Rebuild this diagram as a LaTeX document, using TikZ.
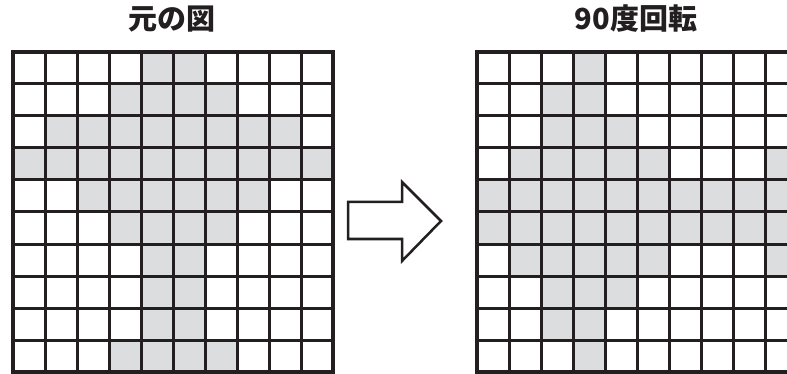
\documentclass[tikz,border=0pt]{standalone}
\usepackage{fontspec}
\newfontfamily\cjk{Noto Sans CJK JP}
\definecolor{cellgray}{RGB}{220,221,223}
\definecolor{ink}{RGB}{35,31,32}
\tikzset{
  gridline/.style={draw=ink, line width=3pt},
  gridframe/.style={draw=ink, line width=4pt},
  title/.style={font=\cjk\bfseries\fontsize{29}{32}\selectfont, text=ink, inner sep=0pt},
  blockarrow/.style={draw=ink, fill=white, line width=2.5pt, line join=miter}
}
\begin{document}
\begin{tikzpicture}[x=1pt,y=-1pt]
\useasboundingbox (0,0) rectangle (787,374);
\clip (0,0) rectangle (787,374);
% left grid: origin (13,52), cell 32
\foreach \r/\a/\b in {0/4/5,1/3/6,2/1/8,3/0/9,4/2/7,5/3/6,6/4/5,7/4/5,8/4/5,9/3/6}
  \fill[cellgray] ({13+\a*32},{52+\r*32}) rectangle ({13+(\b+1)*32},{52+(\r+1)*32});
\foreach \i in {1,...,9} {
  \draw[gridline] ({13+\i*32},52) -- ({13+\i*32},372);
  \draw[gridline] (13,{52+\i*32}) -- (333,{52+\i*32});
}
\draw[gridframe] (13,52) rectangle (333,372);
% right grid: origin (477,52)
\foreach \r/\a/\b in {0/3/3,1/2/3,2/2/4,3/1/5,3/9/9,4/0/9,5/0/9,6/1/5,6/9/9,7/2/4,8/2/3,9/3/3}
  \fill[cellgray] ({477+\a*32},{52+\r*32}) rectangle ({477+(\b+1)*32},{52+(\r+1)*32});
\foreach \i in {1,...,9} {
  \draw[gridline] ({477+\i*32},52) -- ({477+\i*32},372);
  \draw[gridline] (477,{52+\i*32}) -- (797,{52+\i*32});
}
\draw[gridframe] (477,52) rectangle (797,372);
% titles
\node[title] (t1) at (172,19) {元の図};
\node[title] (t2) at (636,19) {90度回転};
% block arrow
\draw[blockarrow] (348,202) -- (402,202) -- (402,182) -- (441,221) -- (402,261) -- (402,239) -- (348,239) -- cycle;
\end{tikzpicture}
\end{document}
